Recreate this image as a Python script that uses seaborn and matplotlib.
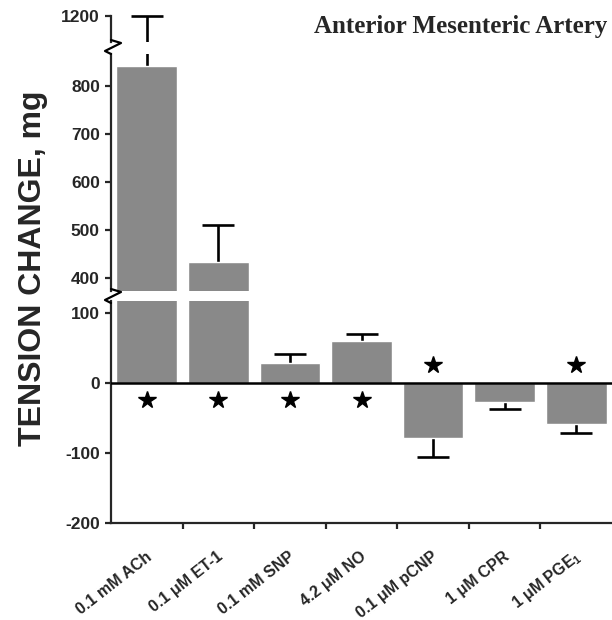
import numpy as np
import pandas as pd
import matplotlib
matplotlib.use("Agg")
import matplotlib.pyplot as plt
import seaborn as sns
from matplotlib.lines import Line2D
from matplotlib.transforms import ScaledTranslation

# ---------------- data ----------------
categories = ["0.1 mM ACh", "0.1 \u03bcM ET-1", "0.1 mM SNP", "4.2 \u03bcM NO",
              "0.1 \u03bcM pCNP", "1 \u03bcM CPR", "1 \u03bcM PGE$_1$"]
means = [842, 433, 29, 60, -79, -27, -58]
sems = [358, 78, 12, 10, 27, 10, 13]
significant = [True, True, True, True, True, False, True]

bottom_ticks = [-200, -100, 0, 100]
middle_ticks = [400, 500, 600, 700, 800]
top_ticks = [1200]

title = "Anterior Mesenteric Artery"
ylabel = "TENSION CHANGE, mg"

# ---------------- style ----------------
sns.set_style("white")
plt.rcParams["font.family"] = ["Liberation Sans", "DejaVu Sans"]
plt.rcParams["font.weight"] = "bold"
plt.rcParams["mathtext.fontset"] = "custom"
plt.rcParams["mathtext.rm"] = "Liberation Sans:bold"
plt.rcParams["mathtext.it"] = "Liberation Sans:bold"
plt.rcParams["mathtext.bf"] = "Liberation Sans:bold"
plt.rcParams["mathtext.default"] = "rm"

BAR = "#898989"
LW = 1.6

df = pd.DataFrame({"cond": categories, "mean": means})
idx = np.arange(len(categories))
means_a = np.array(means, dtype=float)
sems_a = np.array(sems, dtype=float)
direction = np.where(means_a >= 0, 1.0, -1.0)
err_end = means_a + direction * sems_a

W, H = 612, 620
fig = plt.figure(figsize=(W / 100, H / 100), dpi=100)
X0 = 111


def px_axes(top, bottom):
    return fig.add_axes([X0 / W, 1 - bottom / H, 1 - X0 / W, (bottom - top) / H])


ax_top = px_axes(12, 42)
ax_mid = px_axes(54, 291)
ax_bot = px_axes(301, 523)

limits = {ax_top: (1145, 1208), ax_mid: (373, 867), ax_bot: (-200, 117)}
ticks = {ax_top: top_ticks, ax_mid: middle_ticks, ax_bot: bottom_ticks}
spine_bounds = {ax_top: (1145, 1200), ax_mid: (373, 867), ax_bot: (-200, 117)}

for ax in (ax_top, ax_mid, ax_bot):
    sns.barplot(data=df, x="cond", y="mean", color=BAR, saturation=1,
                width=0.85, errorbar=None, ax=ax, zorder=2)
    # one-sided error bars: stem + single cap
    ax.vlines(idx, means_a, err_end, color="black", lw=1.9, zorder=1)
    ax.plot(idx, err_end, ls="none", marker="_", ms=23, mew=1.9,
            color="black", zorder=1)
    ax.set_xlim(-0.5, len(categories) - 0.5)
    ax.set_ylim(*limits[ax])
    ax.set_yticks(ticks[ax])
    ax.set_yticklabels([str(t) for t in ticks[ax]], fontsize=12.5, fontweight="bold")
    ax.tick_params(axis="y", direction="out", length=4, width=LW, pad=4, left=True)
    ax.set_xlabel("")
    ax.set_ylabel("")
    for s in ("top", "right"):
        ax.spines[s].set_visible(False)
    ax.spines["left"].set_linewidth(LW)
    ax.spines["left"].set_bounds(*spine_bounds[ax])
    ax.patch.set_alpha(0)

for ax in (ax_top, ax_mid):
    ax.spines["bottom"].set_visible(False)
    ax.tick_params(axis="x", bottom=False, labelbottom=False)

# zero line
ax_bot.axhline(0, color="black", lw=1.8, zorder=3)

# significance stars
for i, (m, sig) in enumerate(zip(means, significant)):
    if sig:
        ax_bot.plot(i, -np.sign(m) * 25, marker="*", ms=13, color="black",
                    mec="black", zorder=4)

# x axis
ax_bot.spines["bottom"].set_linewidth(LW)
ax_bot.set_xticks(idx)
ax_bot.set_xticklabels(categories, rotation=38, ha="right", va="center",
                       rotation_mode="anchor", fontsize=11.5, fontweight="bold")
ax_bot.set_xticks(idx[:-1] + 0.5, minor=True)
ax_bot.tick_params(axis="x", which="major", length=0, pad=23)
ax_bot.tick_params(axis="x", which="minor", direction="out", length=4,
                   width=LW, bottom=True)
for lab in ax_bot.get_xticklabels():
    lab.set_transform(lab.get_transform() + ScaledTranslation(0.03, 0, fig.dpi_scale_trans))

# axis break zigzags (figure decoration)
for y0 in (40, 289):
    xs = np.array([X0, X0 + 10, X0 - 6, X0])
    ys = np.array([y0, y0 + 3, y0 + 11, y0 + 14])
    fig.add_artist(Line2D(xs / W, 1 - ys / H, color="black", lw=LW,
                          transform=fig.transFigure))

# labels
fig.text(33 / W, 1 - 268 / H, ylabel, rotation=90, ha="center", va="center",
         fontsize=23, fontweight="bold")
fig.text(607 / W, 1 - 33 / H, title, ha="right", va="baseline",
         fontsize=18, fontweight="bold", family=["Liberation Serif", "DejaVu Serif"])

fig.savefig("out.png", dpi=100)
